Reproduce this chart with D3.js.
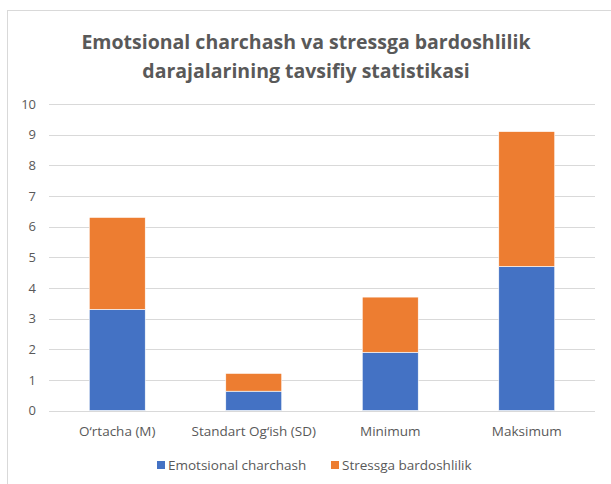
<!DOCTYPE html>
<html>
<head>
<meta charset="utf-8">
<script src="https://cdn.jsdelivr.net/npm/d3@7"></script>
<style>
  body { margin: 0; background: #fff; }
  text { font-family: "Open Sans", "Noto Sans", sans-serif; fill: #595959; }
</style>
</head>
<body>
<script>
var categories = ["O\u2018rtacha (M)", "Standart Og\u2018ish (SD)", "Minimum", "Maksimum"];
var seriesNames = ["Emotsional charchash", "Stressga bardoshlilik"];
var emotsional = [3.3, 0.63, 1.9, 4.7];
var stress = [3.0, 0.58, 1.8, 4.4];
var yTicks = [0, 1, 2, 3, 4, 5, 6, 7, 8, 9, 10];
var colors = ["#4472C4", "#ED7D31"];

var width = 611,
    height = 484;

var margin = {left: 49, right: 16, top: 104, bottom: 73};

var svg = d3.select("body").append("svg")
    .attr("width", width)
    .attr("height", height);

// chart area border
svg.append("rect")
    .attr("x", 7.5).attr("y", 10.5)
    .attr("width", width + 10).attr("height", height + 10)
    .attr("fill", "none")
    .attr("stroke", "#d9d9d9");

var x = d3.scaleBand()
    .domain(categories)
    .range([margin.left, width - margin.right])
    .paddingInner(0.59)
    .paddingOuter(0.295);

var y = d3.scaleLinear()
    .domain([0, 10])
    .range([height - margin.bottom - 0.5, margin.top]);

// gridlines
svg.append("g")
  .selectAll("line")
    .data(yTicks)
  .enter().append("line")
    .attr("x1", margin.left)
    .attr("x2", width - margin.right)
    .attr("y1", function(d) { return Math.round(y(d)) + 0.5; })
    .attr("y2", function(d) { return Math.round(y(d)) + 0.5; })
    .attr("stroke", "#d9d9d9")
    .attr("stroke-width", 1);

var rows = categories.map(function(c, i) {
  return {cat: c, "Emotsional charchash": emotsional[i], "Stressga bardoshlilik": stress[i]};
});
var stacked = d3.stack().keys(seriesNames)(rows);

svg.append("g")
  .selectAll("g")
    .data(stacked)
  .enter().append("g")
    .attr("fill", function(d, i) { return colors[i]; })
  .selectAll("rect")
    .data(function(d) { return d; })
  .enter().append("rect")
    .attr("x", function(d) { return x(d.data.cat); })
    .attr("width", x.bandwidth())
    .attr("y", function(d) { return y(d[1]); })
    .attr("height", function(d) { return y(d[0]) - y(d[1]); })
    .attr("stroke", "#fff")
    .attr("stroke-width", 0.6);

// y axis labels
var yAxis = d3.axisLeft(y).tickValues(yTicks).tickSize(0).tickPadding(0);
var gy = svg.append("g")
    .attr("transform", "translate(36,0)")
    .call(yAxis);
gy.select(".domain").remove();
gy.selectAll("text")
    .attr("font-size", 13)
    .attr("font-family", null)
    .attr("fill", "#595959");

// x axis labels
var xAxis = d3.axisBottom(x).tickSize(0).tickPadding(0);
var gx = svg.append("g")
    .attr("transform", "translate(0," + (height - margin.bottom + 15) + ")")
    .call(xAxis);
gx.select(".domain").remove();
gx.selectAll("text")
    .attr("font-size", 13.5)
    .attr("font-family", null)
    .attr("fill", "#595959");

// title
var title = svg.append("text")
    .attr("text-anchor", "middle")
    .attr("font-size", 19.5)
    .attr("font-weight", "bold")
    .attr("x", 306);
title.append("tspan").attr("x", 306).attr("y", 49).text("Emotsional charchash va stressga bardoshlilik");
title.append("tspan").attr("x", 306).attr("y", 78).text("darajalarining  tavsifiy statistikasi");

// legend
var legendX = [157, 331];
var legend = svg.append("g")
  .selectAll("g")
    .data(seriesNames)
  .enter().append("g")
    .attr("transform", function(d, i) { return "translate(" + legendX[i] + ",461)"; });
legend.append("rect")
    .attr("width", 8).attr("height", 8)
    .attr("fill", function(d, i) { return colors[i]; });
legend.append("text")
    .attr("x", 11)
    .attr("y", 9)
    .attr("font-size", 13.5)
    .text(function(d) { return d; });
</script>
</body>
</html>
